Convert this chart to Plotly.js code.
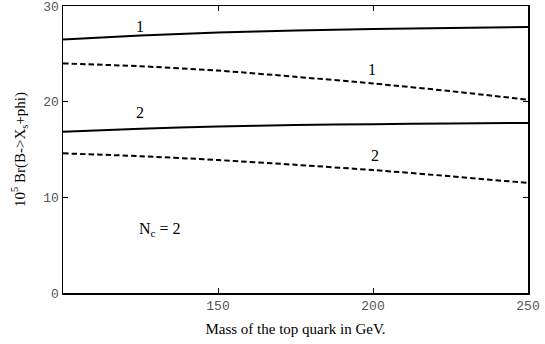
<!DOCTYPE html>
<html>
<head>
<meta charset="utf-8">
<script src="https://cdn.plot.ly/plotly-3.0.1.min.js"></script>
<style>
  html, body { margin: 0; padding: 0; background: #fff; }
  #graph { width: 545px; height: 344px; }
</style>
</head>
<body>
<div id="graph"></div>
<script>
// masse du top (GeV)
var mtop = [100, 125, 150, 175, 200, 225, 250];

// Br x 10^5, courbes 1 et 2 (trait plein / tirets)
var solid1 = [26.5, 26.92, 27.22, 27.44, 27.6, 27.71, 27.8];
var dash1 = [24.0, 23.7, 23.25, 22.6, 21.9, 21.1, 20.2];
var solid2 = [16.85, 17.17, 17.4, 17.55, 17.65, 17.72, 17.78];
var dash2 = [14.6, 14.3, 13.9, 13.4, 12.85, 12.2, 11.5];

var xTicks = [150, 200, 250];
var yTicks = [0, 10, 20, 30];

var serif = 'Liberation Serif, Times New Roman, serif';
var mono = 'Liberation Mono, Courier New, monospace';

function courbe(y, style) {
  return {
    x: mtop,
    y: y,
    type: 'scatter',
    mode: 'lines',
    line: { color: 'black', width: 2, dash: style, shape: 'spline', smoothing: 0.8 },
    hoverinfo: 'skip'
  };
}

var data = [
  courbe(solid1, 'solid'),
  courbe(dash1, '5.5px,3px'),
  courbe(solid2, 'solid'),
  courbe(dash2, '5.5px,3px')
];

// etiquettes sur les courbes
function label(x, y, txt) {
  return {
    x: x, y: y, xref: 'x', yref: 'y', text: txt, showarrow: false,
    font: { family: serif, size: 16, color: 'black' }
  };
}

var layout = {
  width: 545,
  height: 344,
  margin: { l: 63, r: 17, t: 6, b: 51 },
  showlegend: false,
  paper_bgcolor: 'white',
  plot_bgcolor: 'white',
  xaxis: {
    range: [100, 250],
    tickvals: xTicks,
    ticks: 'inside',
    ticklen: 5,
    tickcolor: 'black',
    showline: true,
    linecolor: 'black',
    linewidth: 1.5,
    mirror: 'ticks',
    showgrid: false,
    zeroline: false,
    ticklabeloverflow: 'allow',
    tickfont: { family: mono, size: 13, color: '#555' },
    title: { text: 'Mass of the top quark in GeV.', font: { family: serif, size: 15, color: 'black' }, standoff: 10 }
  },
  yaxis: {
    range: [0, 30],
    tickvals: yTicks,
    ticks: 'inside',
    ticklen: 5,
    tickcolor: 'black',
    showline: true,
    linecolor: 'black',
    linewidth: 1.5,
    mirror: 'ticks',
    showgrid: false,
    zeroline: false,
    ticklabeloverflow: 'allow',
    tickfont: { family: mono, size: 13, color: '#555' },
    title: { text: '10<sup>5</sup> Br(B->X<sub>s</sub>+phi)', font: { family: serif, size: 15, color: 'black' }, standoff: 14 }
  },
  annotations: [
    label(124.8, 27.9, '1'),
    label(199.7, 23.4, '1'),
    label(124.8, 18.9, '2'),
    label(200.6, 14.4, '2'),
    label(131.3, 6.6, 'N<sub>c</sub> = 2')
  ]
};

Plotly.newPlot('graph', data, layout, { displayModeBar: false, staticPlot: true });
</script>
</body>
</html>
